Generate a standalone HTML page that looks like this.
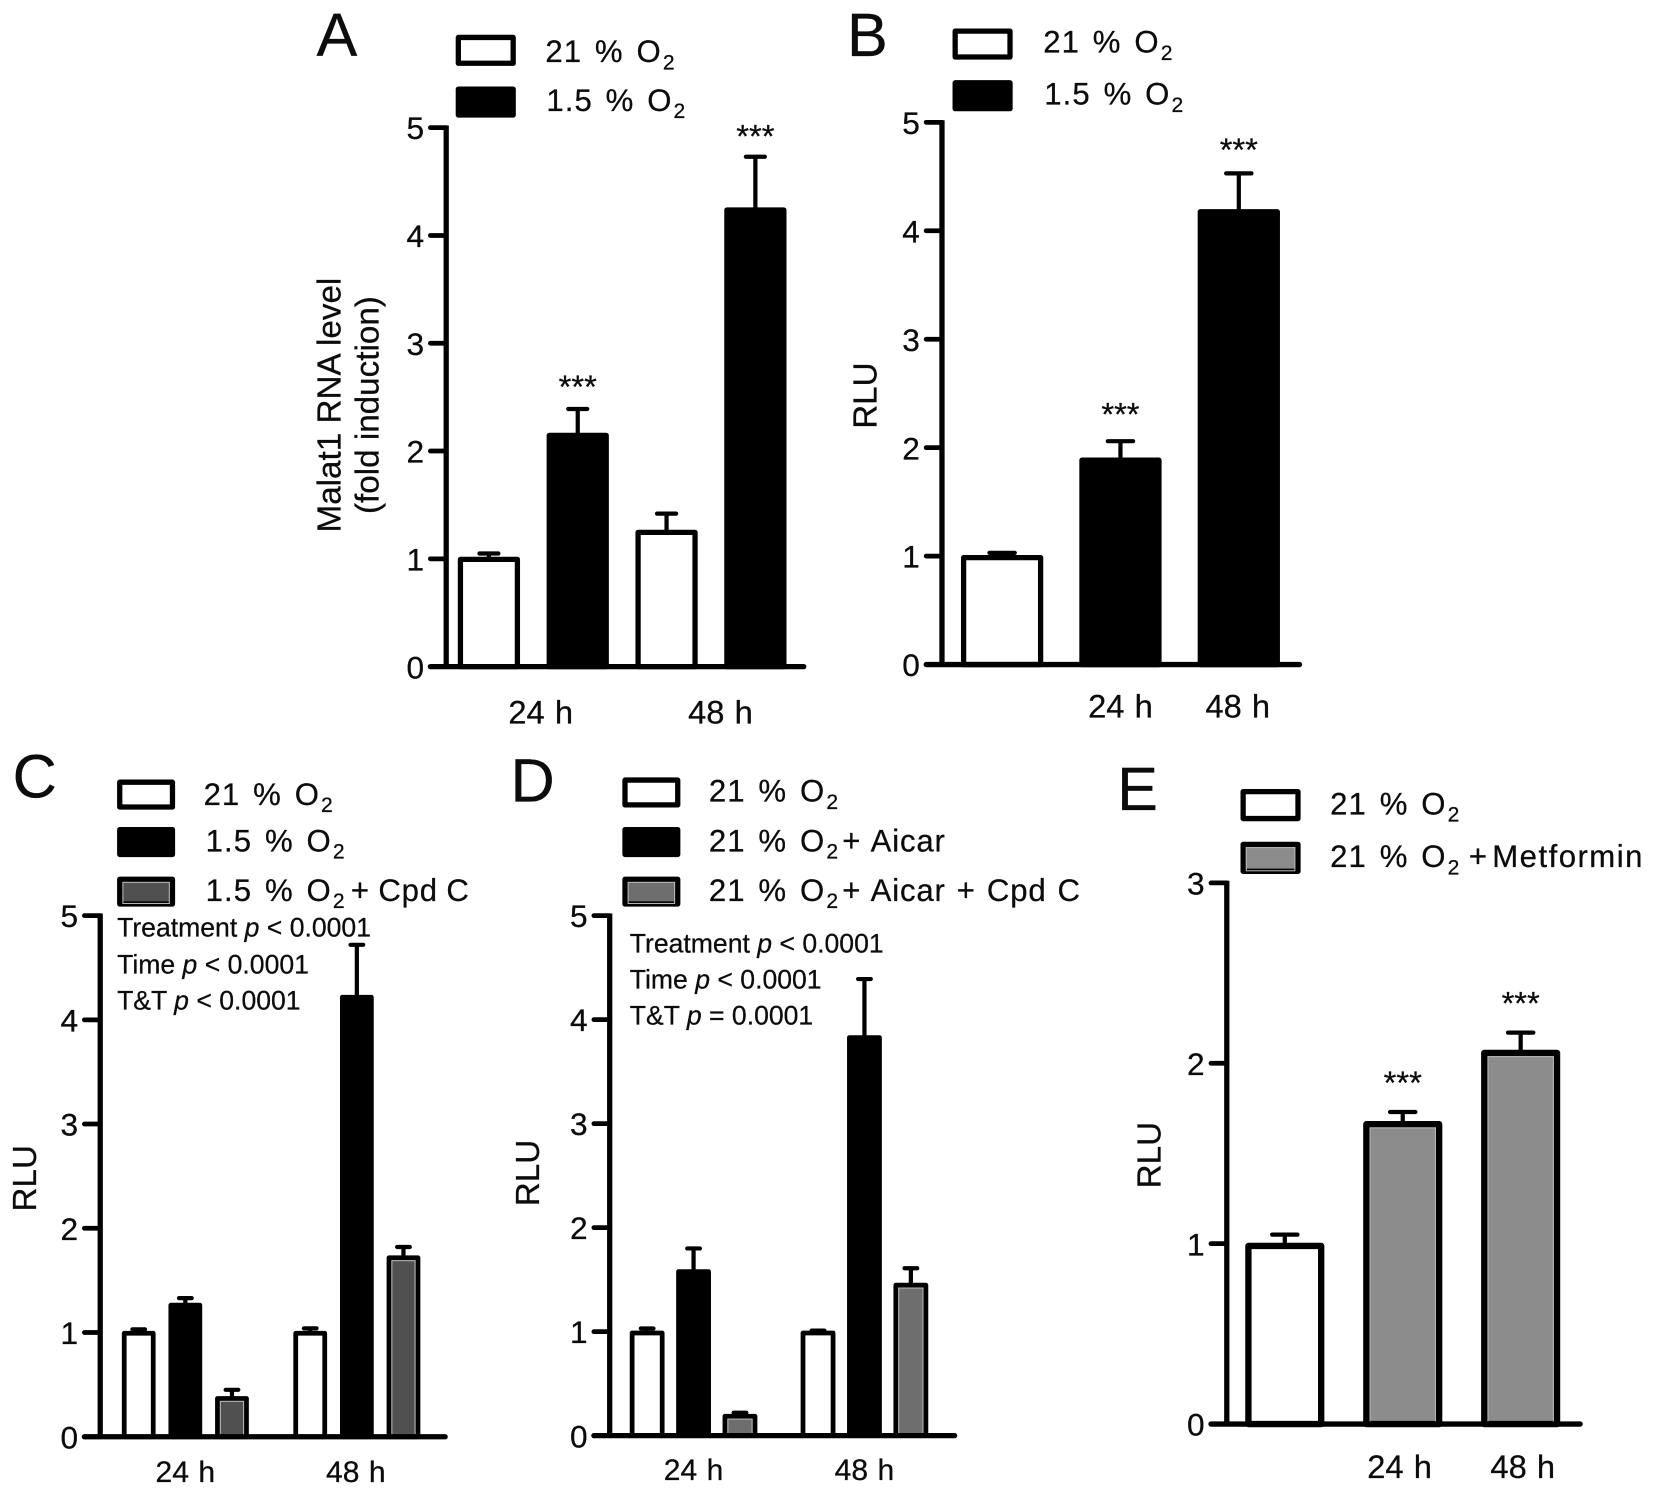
<!DOCTYPE html>
<html lang="en">
<head>
<meta charset="utf-8">
<title>Malat1 RLU bar chart figure</title>
<style>
  html, body { margin: 0; padding: 0; background: #fff; }
  svg { display: block; }
  text { font-family: "Liberation Sans", Arial, sans-serif; fill: #0c0c0c; stroke: #0c0c0c; stroke-width: 0.25; }
</style>
</head>
<body>
<svg id="figure" xmlns="http://www.w3.org/2000/svg" width="1654" height="1496" viewBox="0 0 1568 1418.2" preserveAspectRatio="none"></svg>
<script>
/* ---------- data ---------- */
const aValues = [1.02, 2.17, 1.27, 4.26];
const aErrors = [0.03, 0.22, 0.15, 0.47];
const aStars = [null, 2.66, null, 4.98];
const aTicks = ["0", "1", "2", "3", "4", "5"];
const aCategories = ["24 h", "48 h"];
const aCategoryBars = [[0, 1], [2, 3]];
const aSeriesOfBar = [0, 1, 0, 1];
const aLegend = ["21 % O|2|", "1.5 % O|2|"];

const bValues = [1.01, 1.91, 4.2];
const bErrors = [0.02, 0.15, 0.33];
const bStars = [null, 2.37, 4.81];
const bTicks = ["0", "1", "2", "3", "4", "5"];
const bCategories = ["24 h", "48 h"];
const bCategoryBars = [[1], [2]];
const bSeriesOfBar = [0, 1, 1];
const bLegend = ["21 % O|2|", "1.5 % O|2|"];

const cValues = [1.015, 1.285, 0.39, 1.015, 4.24, 1.74];
const cErrors = [0.015, 0.045, 0.06, 0.025, 0.48, 0.08];
const cStars = [null, null, null, null, null, null];
const cTicks = ["0", "1", "2", "3", "4", "5"];
const cCategories = ["24 h", "48 h"];
const cCategoryBars = [[0, 1, 2], [3, 4, 5]];
const cSeriesOfBar = [0, 1, 2, 0, 1, 2];
const cLegend = ["21 % O|2|", "1.5 % O|2|", "1.5 % O|2|+ Cpd C"];

const dValues = [1.01, 1.6, 0.21, 1.01, 3.85, 1.47];
const dErrors = [0.02, 0.2, 0.01, 0.0, 0.54, 0.14];
const dStars = [null, null, null, null, null, null];
const dTicks = ["0", "1", "2", "3", "4", "5"];
const dCategories = ["24 h", "48 h"];
const dCategoryBars = [[0, 1, 2], [3, 4, 5]];
const dSeriesOfBar = [0, 1, 2, 0, 1, 2];
const dLegend = ["21 % O|2|", "21 % O|2|+ Aicar", "21 % O|2|+ Aicar + Cpd C"];

const eValues = [1.005, 1.68, 2.075];
const eErrors = [0.045, 0.05, 0.095];
const eStars = [null, 1.93, 2.37];
const eTicks = ["0", "1", "2", "3"];
const eCategories = ["24 h", "48 h"];
const eCategoryBars = [[1], [2]];
const eSeriesOfBar = [0, 1, 1];
const eLegend = ["21 % O|2|", "21 % O|2|+ Metformin"];

/* ---------- layout ---------- */
const panels = [
  { id: "a", letter: "A", letterX: 300, letterY: 53, axisX: 423, y0: 632, yTop: 121, yMax: 5, tickX0: 408, baseEnd: 762,
    first: 463.5, step: 84.2, group: 4, gap: 0, barW: 59, sw: 5, capW: 18, catY: 686, catSize: 31, catShift: [7, 9],
    values: aValues, errors: aErrors, stars: aStars, ticks: aTicks, cats: aCategories, catBars: aCategoryBars, seriesOf: aSeriesOfBar,
    fills: ["#ffffff", "#000000"], legend: aLegend, swX: 432, swW: 57, swH: 27, legY: [33, 82], legX: [517, 518], legBase: [59, 105],
    tailDx: 2, tailWs: 3, tailLs: 0.8,
    yTitle: ["Malat1 RNA level", "(fold induction)"], yTitleX: [323, 359], yTitleC: 384, stats: [] },
  { id: "b", letter: "B", letterX: 803, letterY: 53, axisX: 893, y0: 630, yTop: 116, yMax: 5, tickX0: 878, baseEnd: 1232,
    first: 950, step: 112.2, group: 3, gap: 0, barW: 78, sw: 5, capW: 24, catY: 680, catSize: 31, catShift: [0, -1],
    values: bValues, errors: bErrors, stars: bStars, ticks: bTicks, cats: bCategories, catBars: bCategoryBars, seriesOf: bSeriesOfBar,
    fills: ["#ffffff", "#000000"], legend: bLegend, swX: 903, swW: 57, swH: 27, legY: [27, 76], legX: [989, 990], legBase: [50, 99],
    tailDx: 2, tailWs: 3, tailLs: 0.8,
    yTitle: ["RLU"], yTitleX: [831], yTitleC: 375, stats: [] },
  { id: "c", letter: "C", letterX: 12, letterY: 756, axisX: 95, y0: 1362, yTop: 868, yMax: 5, tickX0: 80, baseEnd: 422,
    first: 131.5, step: 44.2, group: 3, gap: 30, barW: 32, sw: 4.5, capW: 12, catY: 1405, catSize: 28.5, catShift: [0, -1],
    values: cValues, errors: cErrors, stars: cStars, ticks: cTicks, cats: cCategories, catBars: cCategoryBars, seriesOf: cSeriesOfBar,
    fills: ["#ffffff", "#000000", "#505050"], legend: cLegend, swX: 111, swW: 55, swH: 26, legY: [739, 784, 831], legX: [193, 195, 195], legBase: [763, 807, 854],
    tailDx: 5, tailWs: -1, tailLs: 0.8,
    yTitle: ["RLU"], yTitleX: [34], yTitleC: 1117,
    stats: [["Treatment ", " < 0.0001", 888], ["Time ", " < 0.0001", 923], ["T&T ", " < 0.0001", 957]], statsX: 111 },
  { id: "d", letter: "D", letterX: 484, letterY: 760, axisX: 578, y0: 1361, yTop: 868, yMax: 5, tickX0: 563, baseEnd: 905,
    first: 613.5, step: 44, group: 3, gap: 30, barW: 33, sw: 4.5, capW: 12, catY: 1403, catSize: 28.5, catShift: [0, 0],
    values: dValues, errors: dErrors, stars: dStars, ticks: dTicks, cats: dCategories, catBars: dCategoryBars, seriesOf: dSeriesOfBar,
    fills: ["#ffffff", "#000000", "#6e6e6e"], legend: dLegend, swX: 590, swW: 55, swH: 26, legY: [737, 784, 831], legX: [672, 672, 672], legBase: [760, 807, 854],
    tailDx: 3, tailWs: 1.5, tailLs: 0.8,
    yTitle: ["RLU"], yTitleX: [511], yTitleC: 1112,
    stats: [["Treatment ", " < 0.0001", 903], ["Time ", " < 0.0001", 937], ["T&T ", " = 0.0001", 971]], statsX: 597 },
  { id: "e", letter: "E", letterX: 1059, letterY: 768, axisX: 1163, y0: 1350, yTop: 837, yMax: 3, tickX0: 1148, baseEnd: 1498,
    first: 1218, step: 111.8, group: 3, gap: 0, barW: 75, sw: 6, capW: 24, catY: 1401, catSize: 31, catShift: [-3, 2],
    values: eValues, errors: eErrors, stars: eStars, ticks: eTicks, cats: eCategories, catBars: eCategoryBars, seriesOf: eSeriesOfBar,
    fills: ["#ffffff", "#8c8c8c"], legend: eLegend, swX: 1176, swW: 57, swH: 28, legY: [748, 798], legX: [1261, 1261], legBase: [772, 822],
    tailDx: 8, tailWs: -6, tailLs: 1.4,
    yTitle: ["RLU"], yTitleX: [1100], yTitleC: 1095, stats: [] }
];

const NS = "http://www.w3.org/2000/svg";
const root = document.getElementById("figure");

function make(parent, tag, attrs, text) {
  const el = document.createElementNS(NS, tag);
  for (const k in attrs) el.setAttribute(k, attrs[k]);
  if (text !== undefined) el.textContent = text;
  parent.appendChild(el);
  return el;
}

function isGray(fill) {
  return fill !== "#ffffff" && fill !== "#000000";
}

function drawBox(parent, x, top, w, bottom, sw, fill) {
  const rect = make(parent, "rect", {
    x: x + sw / 2, y: top + sw / 2, width: w - sw, height: Math.max(bottom - top - sw / 2, 0.1),
    fill: fill, stroke: "#000", "stroke-width": sw, "stroke-linejoin": "round"
  });
  if (isGray(fill)) {
    const inner = make(parent, "rect", {
      x: x + sw + 0.5, y: top + sw + 0.5, width: Math.max(w - 2 * sw - 1, 0), height: Math.max(bottom - top - sw - 1, 0),
      fill: "none", stroke: "#b5b5b5", "stroke-width": 1
    });
    
    
  }
  return rect;
}

panels.forEach(function (p) {
  const g = make(root, "g", {});
  
  

  const yScale = function (v) { return p.y0 - v * (p.y0 - p.yTop) / p.yMax; };
  const xScale = function (i) { return p.first + p.step * i + p.gap * Math.floor(i / p.group); };

  const letter = make(g, "text", { x: p.letterX, y: p.letterY, "font-size": 58 }, p.letter);
  
  

  /* legend */
  p.legend.forEach(function (label, i) {
    const fill = p.fills[i];
    const sw = make(g, "g", {});
    
    
    drawBox(sw, p.swX, p.legY[i], p.swW, p.legY[i] + p.swH, 5, fill);
    const t = make(g, "text", { x: p.legX[i], y: p.legBase[i], "font-size": 29.5, "letter-spacing": 1, "word-spacing": 3 });
    
    
    const parts = label.split("|");
    make(t, "tspan", {}, parts[0]);
    make(t, "tspan", { "font-size": 20, dy: 7, dx: 1 }, parts[1]);
    if (parts[2]) make(t, "tspan", { dy: -7, dx: p.tailDx, "word-spacing": p.tailWs, "letter-spacing": p.tailLs }, parts[2]);
  });

  /* bars and error bars */
  p.values.forEach(function (v, i) {
    const cx = xScale(i);
    const top = yScale(v);
    const errY = yScale(v + p.errors[i]);
    const errLine = make(g, "line", { x1: cx, x2: cx, y1: top + 2, y2: errY, stroke: "#000", "stroke-width": 4 });
    
    
    const cap = make(g, "line", { x1: cx - p.capW / 2, x2: cx + p.capW / 2, y1: errY, y2: errY, stroke: "#000", "stroke-width": 4, "stroke-linecap": "round" });
    
    
    const bar = drawBox(g, cx - p.barW / 2, top, p.barW, p.y0, p.sw, p.fills[p.seriesOf[i]]);
    
    
    if (p.stars[i] !== null) {
      const star = make(g, "text", { x: cx, y: yScale(p.stars[i]) + 17, "font-size": 31, "text-anchor": "middle" }, "***");
      
      
    }
  });

  /* axes */
  const yAxis = make(g, "line", { x1: p.axisX, x2: p.axisX, y1: p.yTop - 2, y2: p.y0 + 2, stroke: "#000", "stroke-width": 5 });
  
  
  const xAxis = make(g, "line", { x1: p.tickX0, x2: p.baseEnd, y1: p.y0, y2: p.y0, stroke: "#000", "stroke-width": 5, "stroke-linecap": "round" });
  
  

  p.ticks.forEach(function (label, i) {
    const y = yScale(Number(label));
    const tick = make(g, "line", { x1: p.tickX0, x2: p.axisX, y1: y, y2: y, stroke: "#000", "stroke-width": 4.5, "stroke-linecap": "round" });
    
    
    const tl = make(g, "text", { x: p.tickX0 - 6, y: y + 11, "font-size": 30, "text-anchor": "end" }, label);
    
    
  });

  /* category labels */
  p.cats.forEach(function (label, i) {
    const idx = p.catBars[i];
    const cx = idx.reduce(function (s, b) { return s + xScale(b); }, 0) / idx.length + p.catShift[i];
    const cl = make(g, "text", { x: cx, y: p.catY, "font-size": p.catSize, "text-anchor": "middle", "word-spacing": 1 }, label);
    
    
  });

  /* y titles */
  p.yTitle.forEach(function (line, i) {
    const tx = p.yTitleX[i];
    const yt = make(g, "text", { x: tx, y: p.yTitleC, "font-size": 31.5, "text-anchor": "middle", transform: "rotate(-90 " + tx + " " + p.yTitleC + ")" }, line);
    
    
  });

  /* statistics annotation */
  p.stats.forEach(function (row, i) {
    const st = make(g, "text", { x: p.statsX, y: row[2], "font-size": 25.2 });
    
    
    make(st, "tspan", {}, row[0]);
    make(st, "tspan", { "font-style": "italic" }, "p");
    make(st, "tspan", {}, row[1]);
  });
});
</script>
</body>
</html>
